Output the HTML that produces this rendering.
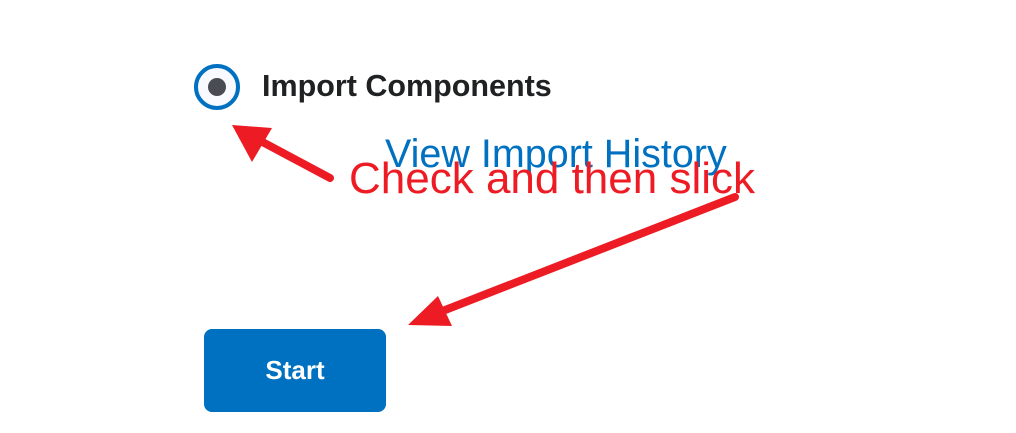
<!DOCTYPE html>
<html><head><style>
body{margin:0;width:1016px;height:433px;background:#fff;position:relative;overflow:hidden;font-family:"Liberation Sans",sans-serif}
.t{position:absolute;white-space:nowrap;line-height:1}
</style></head><body>
<div style="position:absolute;left:194px;top:64px;width:38px;height:38px;border:4px solid #0070c0;border-radius:50%;background:#f8faff"></div>
<div style="position:absolute;left:208px;top:78px;width:18px;height:18px;border-radius:50%;background:#494c52"></div>
<div class="t" style="left:262px;top:71px;font-size:30.5px;font-weight:bold;color:#202122">Import Components</div>
<div class="t" style="left:385px;top:135px;font-size:39.5px;color:#0070c0">View Import History</div>
<div class="t" style="left:349px;top:157px;font-size:44px;color:#ed1c24">Check and then slick</div>
<div style="position:absolute;left:204px;top:329px;width:182px;height:83px;background:#0070c0;border-radius:8px;color:#fff;font-weight:bold;font-size:26px;text-align:center;line-height:83px">Start</div>
<svg width="1016" height="433" style="position:absolute;left:0;top:0">
<line x1="330" y1="178" x2="255" y2="138" stroke="#ed1c24" stroke-width="8" stroke-linecap="round"/>
<polygon points="232,125 272,128 252,162" fill="#ed1c24"/>
<line x1="735" y1="197" x2="440" y2="312" stroke="#ed1c24" stroke-width="8" stroke-linecap="round"/>
<polygon points="408,325 438,296 452,326" fill="#ed1c24"/>
</svg>
</body></html>
